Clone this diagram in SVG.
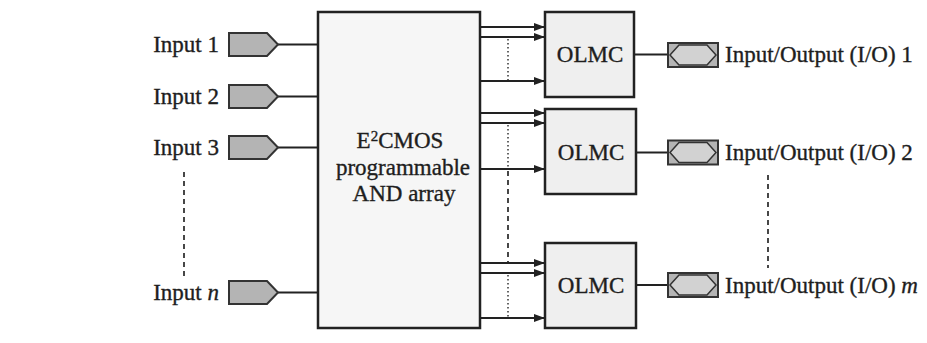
<svg xmlns="http://www.w3.org/2000/svg" width="927" height="343" viewBox="0 0 927 343">
<style>
  text { font-family: "Liberation Serif", "Times New Roman", serif; fill: #1e1e1e; stroke: #1e1e1e; stroke-width: 0.35; font-size: 23px; }
  .box { fill: #f6f6f6; stroke: #222; stroke-width: 2.5; }
  .olmc { fill: #efefef; stroke: #222; stroke-width: 2.5; }
  .pin { fill: #b4b4b4; stroke: #333; stroke-width: 2; }
  .hex { fill: #d2d2d2; stroke: #333; stroke-width: 1.5; }
  .wire { stroke: #222; stroke-width: 2; fill: none; }
  .arrow { stroke: #222; stroke-width: 2; fill: none; marker-end: url(#ah); }
  .dot { stroke: #333; stroke-width: 1.5; stroke-dasharray: 1.5 2.5; fill: none; }
  .dash { stroke: #333; stroke-width: 1.8; stroke-dasharray: 5 4; fill: none; }
</style>
<defs>
  <marker id="ah" markerUnits="userSpaceOnUse" markerWidth="11" markerHeight="8" refX="11" refY="4" orient="auto">
    <path d="M0,0 L11,4 L0,8 z" fill="#222"/>
  </marker>
  <g id="iopin">
    <rect class="pin" x="0" y="-12" width="50" height="24"/>
    <path class="hex" d="M2,0 L11,-10 H39 L48,0 L39,10 H11 Z"/>
  </g>
</defs>
<rect width="927" height="343" fill="#ffffff"/>

<g id="connectors">
  <line class="wire" x1="278" y1="44.5" x2="318" y2="44.5"/>
  <line class="wire" x1="278" y1="96.5" x2="318" y2="96.5"/>
  <line class="wire" x1="278" y1="147.5" x2="318" y2="147.5"/>
  <line class="wire" x1="278" y1="292.5" x2="318" y2="292.5"/>
  <line class="dash" x1="184" y1="172" x2="184" y2="276"/>
  <line class="arrow" x1="480" y1="27" x2="545" y2="27"/>
  <line class="arrow" x1="480" y1="37" x2="545" y2="37"/>
  <line class="arrow" x1="480" y1="81" x2="545" y2="81"/>
  <line class="dot" x1="508" y1="39" x2="508" y2="80"/>
  <line class="arrow" x1="480" y1="113" x2="545" y2="113"/>
  <line class="arrow" x1="480" y1="123" x2="545" y2="123"/>
  <line class="arrow" x1="480" y1="169" x2="545" y2="169"/>
  <line class="dot" x1="508" y1="125" x2="508" y2="168"/>
  <line class="dash" x1="508" y1="171" x2="508" y2="262"/>
  <line class="arrow" x1="480" y1="263" x2="545" y2="263"/>
  <line class="arrow" x1="480" y1="273" x2="545" y2="273"/>
  <line class="arrow" x1="480" y1="318" x2="545" y2="318"/>
  <line class="dot" x1="508" y1="275" x2="508" y2="317"/>
  <line class="wire" x1="634" y1="54.5" x2="668" y2="54.5"/>
  <line class="wire" x1="636" y1="152.5" x2="668" y2="152.5"/>
  <line class="wire" x1="636" y1="285" x2="668" y2="285"/>
  <line class="dash" x1="768" y1="175" x2="768" y2="268"/>
</g>

<g id="input1">
  <path class="pin" d="M229,33 H267 L278,44.5 L267,56 H229 Z"/>
  <text x="219" y="52" text-anchor="end">Input 1</text>
</g>
<g id="input2">
  <path class="pin" d="M229,85 H267 L278,96.5 L267,108 H229 Z"/>
  <text x="219" y="104" text-anchor="end">Input 2</text>
</g>
<g id="input3">
  <path class="pin" d="M229,136 H267 L278,147.5 L267,159 H229 Z"/>
  <text x="219" y="155" text-anchor="end">Input 3</text>
</g>
<g id="inputn">
  <path class="pin" d="M229,281 H267 L278,292.5 L267,304 H229 Z"/>
  <text x="219" y="300" text-anchor="end">Input <tspan font-style="italic">n</tspan></text>
</g>

<g id="and-array">
  <rect class="box" x="318" y="12" width="162" height="316"/>
  <text x="400" y="148" text-anchor="middle">E<tspan dy="-7" font-size="15">2</tspan><tspan dy="7">CMOS</tspan></text>
  <text x="403" y="175" text-anchor="middle">programmable</text>
  <text x="404" y="201" text-anchor="middle">AND array</text>
</g>

<g id="olmc1">
  <rect class="olmc" x="545" y="12" width="89" height="85"/>
  <text x="590" y="62" text-anchor="middle">OLMC</text>
</g>
<g id="olmc2">
  <rect class="olmc" x="545" y="109" width="91" height="85"/>
  <text x="591" y="160" text-anchor="middle">OLMC</text>
</g>
<g id="olmc3">
  <rect class="olmc" x="545" y="243" width="91" height="85"/>
  <text x="591" y="293" text-anchor="middle">OLMC</text>
</g>

<g id="io1">
  <use href="#iopin" x="668" y="55"/>
  <text x="725" y="62">Input/Output (I/O) 1</text>
</g>
<g id="io2">
  <use href="#iopin" x="668" y="152.5"/>
  <text x="725" y="160">Input/Output (I/O) 2</text>
</g>
<g id="iom">
  <use href="#iopin" x="668" y="285"/>
  <text x="725" y="293">Input/Output (I/O) <tspan font-style="italic">m</tspan></text>
</g>
</svg>
